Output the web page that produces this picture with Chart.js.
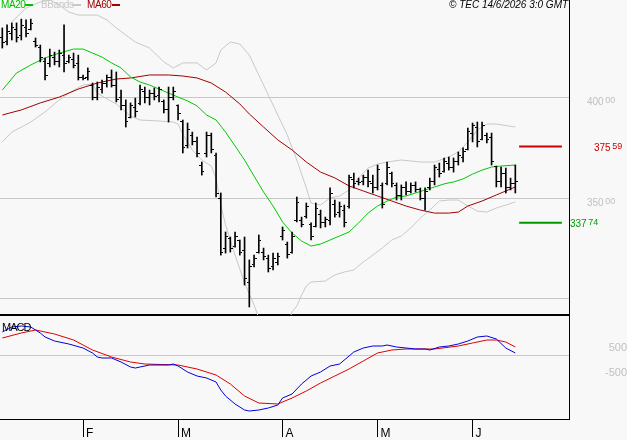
<!DOCTYPE html>
<html>
<head>
<meta charset="utf-8">
<script src="https://cdn.jsdelivr.net/npm/chart.js@4.4.1/dist/chart.umd.min.js"></script>
<style>
  body { margin: 0; background: #f8f8f8; }
  #wrap { position: relative; width: 627px; height: 440px; overflow: hidden; font-family: "Liberation Sans", Arial, sans-serif; }
  #priceBox { position: absolute; left: 0; top: 0; width: 627px; height: 317px; }
  #macdBox { position: absolute; left: 0; top: 316px; width: 627px; height: 124px; }
  canvas { display: block; }
  .txt { position: absolute; font-size: 10px; line-height: 10px; white-space: nowrap; letter-spacing: -0.4px; }
  .key { position: absolute; height: 2px; }
</style>
</head>
<body>
<div id="wrap">
  <div id="priceBox"><canvas id="priceChart" width="627" height="317"></canvas></div>
  <div id="macdBox"><canvas id="macdChart" width="627" height="124"></canvas></div>

  <span class="txt" style="left:1px;top:0;color:#00c000">MA20</span>
  <span class="key" style="left:25px;top:4px;width:8px;background:#00c000"></span>
  <span class="txt" style="left:41px;top:0;color:#c8c8c8">BBands</span>
  <span class="key" style="left:72px;top:4px;width:9px;background:#c8c8c8"></span>
  <span class="txt" style="left:87px;top:0;color:#a00000">MA60</span>
  <span class="key" style="left:112px;top:4px;width:8px;background:#a00000"></span>

  <span class="txt" style="left:449px;top:0;color:#000;font-style:italic;letter-spacing:0;background:#f8f8f8">© TEC 14/6/2026 3:0 GMT</span>
  <span class="txt" style="left:2px;top:322px;color:#000;font-size:11px;line-height:11px;letter-spacing:-1px">MACD</span>
</div>

<script>
// trading days, Jan 8 -> Jun 12 2026
const dates = [
  '01-08','01-09','01-12','01-13','01-14','01-15','01-16','01-19','01-20','01-21','01-22','01-23','01-26','01-27','01-28','01-29','01-30',
  '02-02','02-03','02-04','02-05','02-06','02-09','02-10','02-11','02-12','02-13','02-16','02-17','02-18','02-19','02-20','02-23','02-24','02-25','02-26','02-27',
  '03-02','03-03','03-04','03-05','03-06','03-09','03-10','03-11','03-12','03-13','03-16','03-17','03-18','03-19','03-20','03-23','03-24','03-25','03-26','03-27','03-30','03-31',
  '04-01','04-02','04-07','04-08','04-09','04-10','04-13','04-14','04-15','04-16','04-17','04-20','04-21','04-22','04-23','04-24','04-27','04-28','04-29','04-30',
  '05-04','05-05','05-06','05-07','05-08','05-11','05-12','05-13','05-14','05-15','05-18','05-19','05-20','05-21','05-22','05-25','05-26','05-27','05-28','05-29',
  '06-01','06-02','06-03','06-04','06-05','06-08','06-09','06-10','06-11','06-12'
];
const monthInitials = { '01': 'J', '02': 'F', '03': 'M', '04': 'A', '05': 'M', '06': 'J' };

const opens = [
  430,428,432,434,431,435,434,428,425,418, 417,420,418,421,418,419,417,410,410,406,
  400,404,407,410,406,400,396,390,395,397, 403,400,402,401,398,394,400,396,388,376,
  381,378,366,372,381,371,350,325,330,326, 329,324,308,317,323,323,320,316,318,331,
  327,323,339,339,341,337,336,342,338,339, 347,343,344,346,359,358,358,360,357,355,
  356,357,362,356,351,355,353,356,354,350, 355,358,364,363,367,365,368,370,374,382,
  385,379,381,380,365.5,358,362,355,357
];
const highs = [
  434.6,436.1,437.1,437.1,439.0,438.6,439.0,429.6,426.1,419.6, 424.1,422.6,423.6,436.1,421.1,422.1,421.1,411.2,414.7,407.2,
  407.7,408.7,411.2,413.7,412.7,403.7,398.8,397.3,399.7,406.2, 405.2,403.7,404.7,405.2,398.8,405.2,405.2,396.3,388.8,387.3,
  382.8,380.3,367.9,382.8,382.3,372.4,352.5,333.1,330.6,333.1, 329.1,330.6,319.2,321.6,331.6,325.1,321.6,322.6,322.6,335.6,
  328.1,333.1,350.5,340.5,347.5,337.6,347.5,344.0,340.5,355.0, 349.0,348.0,346.5,361.4,362.4,359.9,361.4,363.9,361.4,366.4,
  357.5,367.9,362.9,357.5,356.5,358.0,357.5,358.0,355.0,355.0, 359.9,366.4,367.4,369.9,370.4,369.9,372.9,374.9,384.8,387.3,
  387.8,387.8,382.3,382.3,365.9,365.4,364.9,359.9,366.4
];
const lows = [
  424.6,426.1,428.6,427.6,428.6,430.1,433.6,425.1,417.7,408.7, 415.2,416.2,415.2,412.7,417.2,414.7,408.7,408.7,408.7,398.8,
  398.8,402.2,405.2,405.2,397.8,393.8,385.3,389.8,390.3,396.3, 397.3,396.3,398.8,397.8,392.3,387.8,398.8,388.8,372.4,374.9,
  376.4,370.4,361.4,370.4,372.4,350.5,321.6,322.6,323.1,325.6, 321.6,306.7,295.8,315.7,322.6,319.2,313.2,314.2,316.7,329.1,
  320.1,322.6,338.1,335.6,340.0,329.1,335.6,335.1,335.6,336.6, 340.5,340.5,335.6,345.0,355.0,356.5,356.5,355.5,352.5,354.0,
  345.0,356.5,355.5,349.0,349.0,351.5,352.5,353.0,349.0,344.0, 354.0,356.5,360.4,362.9,363.9,362.9,366.4,367.9,373.9,377.9,
  375.4,378.9,377.4,366.4,355.5,355.5,352.5,354.0,352.5
];
const closes = [
  427.5,433,435,430,436,432,437,426,420,411, 421,418,422,417,420,416,410,409.5,413,400,
  405,407,410,406,399,396,388,396,393,404, 400,402,400.5,404,394,400,403,392,375,384,
  378,372,363,381,374,352,323,331,325,331, 323,310,316,320,329,321,315,320,321,334,
  322,331,348,337,346,331,345,338,339.5,352, 342,346,338,360,357,357.5,360,358,355,364,
  347,365,357,351,355,353,356,354,350,353, 358,365,362,368,365,368,371,373,383,386,
  378,386,379,368,358,362,355,357,358
];

// indicator readings: [day index, value]
const ma20 = [
  [0,403.7],[3,412.2],[6,416.2],[9,419.7],[12,422.1],[15,424.1],[17,424.1],[19,422.1],[21,420.1],[23,417.2],
  [25,414.7],[27,410.2],[29,407.7],[31,406.2],[33,404.2],[35,402.2],[37,400.2],[39,398.3],[41,395.8],[43,391.3],
  [45,388.8],[47,382.8],[49,375.9],[51,368.9],[53,360.9],[55,353.0],[57,346.0],[59,338.1],[61,332.6],[63,328.6],
  [65,326.1],[67,327.1],[69,329.1],[71,331.1],[73,333.1],[75,337.6],[77,342.5],[79,346.0],[81,348.5],[83,350.5],
  [85,351.0],[87,352.5],[89,354.0],[91,355.5],[93,357.0],[95,358.0],[97,359.5],[99,361.9],[101,363.9],[103,365.4],
  [105,365.9],[108,366.4]
];
const ma60 = [
  [0,391.3],[4,393.8],[8,397.3],[12,400.2],[16,404.2],[20,407.2],[24,409.2],[27,409.7],[31,411.2],[35,411.2],
  [38,410.7],[41,409.7],[44,407.2],[47,402.7],[50,396.8],[52,391.8],[55,385.3],[58,378.9],[61,373.9],[64,367.9],
  [67,362.9],[70,360.0],[73,356.0],[76,353.5],[79,351.0],[82,348.5],[85,346.0],[88,344.0],[91,342.5],[94,342.5],
  [96,343.0],[98,346.0],[101,348.5],[104,351.5],[106,353.5],[108,355.5]
];
const bbUpper = [
  [2,437.6],[5,444.5],[8,447.5],[10,448.5],[12,446.0],[14,442.5],[16,441.0],[20,441.0],[22,438.6],[24,434.6],
  [26,431.1],[28,427.6],[31,424.6],[34,417.7],[36,414.7],[38,417.2],[41,417.2],[43,413.7],[45,417.2],[46,423.6],
  [48,427.6],[50,426.6],[52,421.1],[54,411.2],[56,401.2],[58,391.3],[60,381.3],[62,368.9],[64,355.0],[65,347.5],
  [67,346.5],[69,350.0],[71,351.0],[73,354.0],[75,360.0],[77,364.9],[79,366.9],[81,367.9],[84,368.9],[88,367.9],
  [91,367.9],[94,370.4],[96,372.9],[98,377.9],[100,383.8],[102,386.8],[104,386.8],[108,385.3]
];
const bbLower = [
  [0,377.9],[2,382.8],[6,387.8],[9,392.8],[12,398.8],[14,402.2],[17,406.2],[19,406.7],[20,402.2],[22,399.3],
  [24,396.8],[27,390.8],[29,388.8],[33,388.3],[36,387.8],[37,386.8],[38,381.8],[40,373.9],[42,368.9],[44,365.9],
  [45,359.9],[46,346.5],[47,336.6],[49,321.6],[51,307.7],[53,296.8],[54,290.3],[56,284.3],[58,281.8],[60,286.8],
  [61,293.3],[62,296.3],[63,301.7],[64,306.2],[65,308.2],[68,308.7],[70,311.7],[72,313.2],[74,314.2],[76,318.2],
  [78,321.6],[80,325.1],[82,329.1],[84,331.1],[86,335.1],[88,340.0],[90,344.0],[92,348.5],[94,349.0],[96,349.0],
  [98,346.0],[100,343.5],[102,343.0],[104,345.0],[106,346.5],[108,348.0]
];
const macd = [
  [0,920],[2,1120],[4,1160],[6,1120],[7,1000],[8,880],[9,720],[11,560],[14,440],[17,280],
  [19,80],[20,-80],[21,-120],[23,-120],[25,-280],[27,-480],[28,-520],[29,-480],[31,-400],[33,-400],
  [35,-400],[36,-360],[37,-440],[39,-680],[41,-840],[43,-920],[45,-1080],[46,-1400],[47,-1640],[49,-1960],
  [51,-2200],[52,-2240],[54,-2200],[56,-2120],[58,-2000],[59,-1720],[61,-1560],[63,-1160],[65,-840],[67,-680],
  [69,-440],[71,-360],[73,-40],[74,120],[76,280],[78,360],[80,360],[81,400],[83,320],[85,280],
  [87,240],[89,240],[90,200],[92,320],[94,360],[96,440],[98,560],[100,720],[102,760],[104,640],
  [106,280],[108,80]
];
const macdSignal = [
  [0,680],[4,880],[7,1000],[11,840],[15,600],[19,200],[23,-80],[27,-280],[30,-360],[37,-400],
  [41,-560],[45,-800],[48,-1160],[51,-1640],[54,-1920],[58,-1960],[61,-1720],[64,-1440],[67,-1120],[70,-840],
  [73,-560],[76,-240],[79,80],[82,200],[85,240],[91,240],[96,360],[99,480],[102,600],[104,600],
  [106,520],[108,320]
];

const resistance = 375.59;
const support = 337.74;
const priceTicks = [300, 350, 400];
const macdTicks = [-500, 0, 500];

// layout constants (x in day units)
const X_MIN = -0.484, X_MAX = 119.3;
const LEVEL_FROM = 108.8, LEVEL_TO = 117.8;

const monthStarts = dates.map((d, i) => i).filter(i => i > 0 && dates[i].slice(0, 2) !== dates[i - 1].slice(0, 2));

function tickImage(side) {
  const c = document.createElement('canvas');
  c.width = 5; c.height = 1;
  const g = c.getContext('2d');
  g.fillStyle = '#000';
  g.fillRect(side === 'left' ? 0 : 3, 0, 2, 1);
  return c;
}

function splitLabel(ctx, x, base, main, sup, color) {
  ctx.fillStyle = color;
  ctx.font = '10px "Liberation Sans", Arial, sans-serif';
  ctx.fillText(main, x, base);
  const w = ctx.measureText(main).width;
  ctx.font = '9px "Liberation Sans", Arial, sans-serif';
  ctx.fillText(sup, x + w + 1.5, base - 2);
}

const sideLabels = {
  id: 'sideLabels',
  afterDraw(chart) {
    const { ctx } = chart;
    const y = chart.scales.y;
    ctx.save();
    ctx.textBaseline = 'alphabetic';
    priceTicks.filter(v => v !== 300).forEach(v => {
      splitLabel(ctx, 587, y.getPixelForValue(v) + 7.5, String(v), '00', '#c0c0c0');
    });
    const lvl = [[resistance, '#cc0000', 594], [support, '#009900', 570]];
    lvl.forEach(([v, col, x]) => {
      const whole = Math.floor(v);
      const cents = String(Math.round((v - whole) * 100)).padStart(2, '0');
      splitLabel(ctx, x, y.getPixelForValue(v) + 4, String(whole), cents, col);
    });
    ctx.restore();
  }
};

const lineDs = (data, color, width) => ({
  type: 'line', data, borderColor: color, borderWidth: width || 1,
  pointRadius: 0, fill: false, tension: 0
});

new Chart(document.getElementById('priceChart'), {
  type: 'line',
  data: {
    datasets: [
      { type: 'bar', data: dates.map((d, i) => ({ x: i, y: [lows[i], highs[i]] })),
        backgroundColor: '#000', borderWidth: 0, barThickness: 1 },
      { type: 'line', data: opens.map((v, i) => ({ x: i, y: v })), showLine: false,
        pointStyle: tickImage('left'), pointRadius: 2 },
      { type: 'line', data: closes.map((v, i) => ({ x: i, y: v })), showLine: false,
        pointStyle: tickImage('right'), pointRadius: 2 },
      lineDs([[LEVEL_FROM, resistance], [LEVEL_TO, resistance]], '#cc0000', 2),
      lineDs([[LEVEL_FROM, support], [LEVEL_TO, support]], '#009900', 2),
      lineDs(ma20, '#00c800'),
      lineDs(ma60, '#a00000'),
      lineDs(bbUpper, '#c8c8c8'),
      lineDs(bbLower, '#c8c8c8')
    ]
  },
  options: {
    responsive: false,
    animation: false,
    events: [],
    layout: { padding: 0, autoPadding: false },
    plugins: { legend: { display: false }, tooltip: { enabled: false } },
    scales: {
      x: {
        type: 'linear', min: X_MIN, max: X_MAX, offset: false,
        grid: { display: false },
        ticks: { display: false },
        border: { display: true, color: '#000', width: 2 },
        afterFit: s => { s.height = 2; s.paddingLeft = 0; s.paddingRight = 0; }
      },
      y: {
        position: 'right', min: 291.8, max: 448.5,
        afterBuildTicks: s => { s.ticks = priceTicks.map(v => ({ value: v })); },
        grid: { color: '#c8c8c8', drawTicks: false },
        border: { display: true, color: '#000', width: 1 },
        ticks: { display: false },
        afterFit: s => { s.width = 58; s.paddingTop = 0; s.paddingBottom = 0; }
      }
    }
  },
  plugins: [sideLabels]
});

new Chart(document.getElementById('macdChart'), {
  type: 'line',
  data: {
    datasets: [
      lineDs(macd, '#0000dd'),
      lineDs(macdSignal, '#dd0000')
    ]
  },
  options: {
    responsive: false,
    animation: false,
    events: [],
    layout: { padding: 0, autoPadding: false },
    plugins: { legend: { display: false }, tooltip: { enabled: false } },
    scales: {
      x: {
        type: 'linear', min: X_MIN, max: X_MAX, offset: false,
        afterBuildTicks: s => { s.ticks = monthStarts.map(i => ({ value: i })); },
        grid: { display: true, drawOnChartArea: false, drawTicks: true, tickLength: 18, color: '#000' },
        border: { display: true, color: '#000', width: 1 },
        ticks: {
          autoSkip: false, maxRotation: 0, align: 'start', labelOffset: 3, padding: -11,
          color: '#000', font: { family: '"Liberation Sans", Arial, sans-serif', size: 12 },
          callback: v => monthInitials[dates[v].slice(0, 2)]
        },
        afterFit: s => { s.height = 21; s.paddingLeft = 0; s.paddingRight = 0; }
      },
      y: {
        position: 'right', min: -2560, max: 1560,
        afterBuildTicks: s => { s.ticks = macdTicks.map(v => ({ value: v })); },
        grid: { color: c => (c.tick && c.tick.value === 0 ? '#c8c8c8' : 'rgba(0,0,0,0)'), drawTicks: false },
        border: { display: true, color: '#000', width: 1 },
        ticks: {
          crossAlign: 'far', padding: 28, labelOffset: 5, color: '#c0c0c0',
          font: { family: '"Liberation Sans", Arial, sans-serif', size: 11 },
          callback: v => (v === 0 ? '' : String(v))
        },
        afterFit: s => { s.width = 58; s.paddingTop = 0; s.paddingBottom = 0; }
      }
    }
  }
});
</script>
</body>
</html>
